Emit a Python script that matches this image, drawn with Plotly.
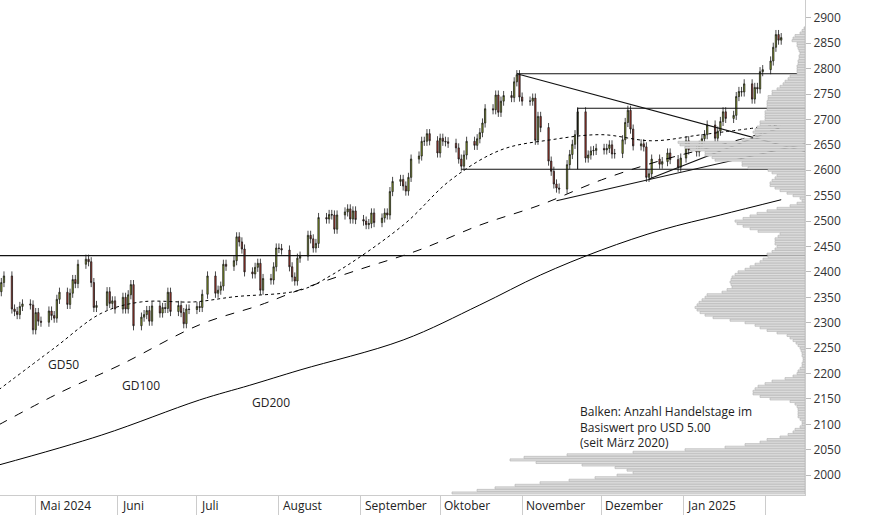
import pandas as pd
import plotly.graph_objects as go

closes = [
 2361,2379,2392,2327,2322,2316,2332,2337,2335,2286,
 2320,2303,2301,2323,2314,2309,2346,2360,2336,2358,2385,2377,2415,2425,2420,2379,2330,2334,2361,2338,2343,2327,
 2350,2327,2355,2375,2294,2311,2316,2324,2303,2333,2319,2330,2328,2360,2322,2334,2320,2298,2327,2326,
 2332,2330,2356,2392,2358,2364,2372,2415,2411,2422,2469,2459,2445,2400,2396,2409,2417,2364,2387,2384,2410,2447,
 2446,2443,2410,2390,2382,2427,2431,2472,2465,2447,2456,2507,2504,2513,2512,2484,2512,2518,2524,2504,2520,2503,
 2500,2493,2495,2516,2497,2506,2516,2512,2558,2578,2582,2569,2559,2586,2622,2628,2657,2657,2672,2658,2634,
 2663,2657,2656,2653,2644,2622,2608,2630,2657,2649,2662,2674,2693,2721,2719,2748,2714,2736,2747,2743,2774,2788,2744,
 2736,2736,2742,2659,2706,2684,2618,2598,2573,2565,2563,2611,2631,2651,2670,2715,2624,2630,2638,2639,2643,
 2640,2643,2650,2632,2633,2660,2694,2718,2681,2648,2652,2646,2586,2593,2622,2612,2617,2634,2621,2606,2624,
 2658,2640,2636,2649,2662,2670,2689,2663,2677,2696,2715,2702,2708,2745,2755,2754,2770,2740,2763,2760,2794,2798,
 2815,2842,2867,2856,2861]
first_open = 2380
wick = 9
holidays = ["2024-05-27", "2024-07-04", "2024-12-25", "2025-01-01"]
dates = [d for d in pd.bdate_range("2024-04-17", "2025-02-07") if d.strftime("%Y-%m-%d") not in holidays]
n = min(len(dates), len(closes))
dates, closes = dates[:n], closes[:n]
opens = [first_open] + closes[:-1]
highs = [max(o, c) + wick for o, c in zip(opens, closes)]
lows = [min(o, c) - wick for o, c in zip(opens, closes)]

gd50_dates = ["2024-04-17","2024-05-08","2024-05-26","2024-06-10","2024-06-30","2024-07-15","2024-08-09","2024-08-21","2024-09-17","2024-10-05","2024-10-24","2024-11-12","2024-12-01","2024-12-20","2025-01-08","2025-02-07"]
gd50_vals = [2168,2250,2319,2341,2341,2351,2364,2394,2492,2581,2640,2660,2670,2658,2670,2690]
gd100_dates = ["2024-04-17","2024-05-10","2024-06-02","2024-07-02","2024-07-25","2024-08-09","2024-08-31","2024-09-23","2024-10-16","2024-11-08","2024-12-01","2024-12-24","2025-01-15","2025-02-07"]
gd100_vals = [2099,2162,2217,2296,2335,2365,2404,2443,2492,2532,2581,2620,2650,2683]
gd200_dates = ["2024-04-17","2024-05-26","2024-07-02","2024-07-21","2024-08-09","2024-09-17","2024-10-16","2024-11-08","2024-12-01","2024-12-24","2025-01-15","2025-02-07"]
gd200_vals = [2020,2079,2148,2177,2207,2266,2335,2394,2443,2483,2512,2542]

lines = [
 ("2024-04-17", 2432, "2025-02-16", 2432),
 ("2024-10-30", 2790, "2025-02-16", 2790),
 ("2024-11-22", 2722, "2025-02-16", 2722),
 ("2024-10-09", 2602, "2025-02-16", 2602),
 ("2024-11-22", 2602, "2024-11-22", 2722),
 ("2024-10-30", 2790, "2025-02-16", 2637),
 ("2024-11-14", 2540, "2025-02-16", 2652),
 ("2024-12-19", 2583, "2025-02-07", 2685),
]

prof_start = 1965
prof_step = 5
prof_len = [353,328,310,290,265,236,210,188,172,178,190,223,269,295,281,238,172,
 120,80,60,45,38,25,17,12,10,5,3,3,5,7,7,7,7,8,10,15,35,45,52,52,50,47,40,33,20,12,8,7,5,3,3,2,2,3,3,4,5,7,9,12,15,18,28,38,45,50,
 60,75,92,100,105,108,110,108,106,103,100,98,83,78,73,74,75,74,73,70,67,60,55,50,45,42,37,38,33,30,28,30,30,30,27,25,
 47,55,62,68,70,62,55,48,38,28,15,8,3,5,12,18,25,30,35,35,33,30,28,33,37,57,63,63,90,93,100,100,115,120,125,127,
 63,52,50,52,50,48,45,45,40,40,40,40,38,38,38,38,37,37,33,33,28,25,22,20,17,15,8,8,8,8,7,7,6,6,5,6,7,8,8,13,12,10,5,3,1]
prof_levels = [prof_start + prof_step * i for i in range(len(prof_len))]

months = ["2024-05-01","2024-06-01","2024-07-01","2024-08-01","2024-09-01","2024-10-01","2024-11-01","2024-12-01","2025-01-01","2025-02-01"]
month_labels = ["Mai 2024","Juni","Juli","August","September","Oktober","November","Dezember","Jan 2025",""]
yticks = list(range(2000, 2901, 50))

fig = go.Figure()
fig.add_trace(go.Bar(y=prof_levels, x=prof_len, orientation="h", xaxis="x2", width=4.2,
    marker=dict(color="#dedede", line=dict(color="#b0b0b0", width=0.6)), hoverinfo="skip"))
for ds, vs, dash in [(gd50_dates, gd50_vals, "dot"), (gd100_dates, gd100_vals, "dash"), (gd200_dates, gd200_vals, "solid")]:
    fig.add_trace(go.Scatter(x=ds, y=vs, mode="lines", line=dict(color="black", width=1, dash=dash, shape="spline")))
for x0, y0, x1, y1 in lines:
    fig.add_trace(go.Scatter(x=[x0, x1], y=[y0, y1], mode="lines", line=dict(color="#111", width=1.1)))
fig.add_trace(go.Candlestick(x=dates, open=opens, high=highs, low=lows, close=closes,
    increasing=dict(fillcolor="#9cb526", line=dict(color="#1a1a1a", width=0.8)),
    decreasing=dict(fillcolor="#c0392b", line=dict(color="#1a1a1a", width=0.8)), whiskerwidth=0))

for lab, d, p in [("GD50", "2024-05-05", 2217), ("GD100", "2024-06-02", 2176), ("GD200", "2024-07-21", 2144)]:
    fig.add_annotation(x=d, y=p, text=lab, showarrow=False, font=dict(size=12, color="#222"), xanchor="left")
for m, lab in zip(months, month_labels):
    fig.add_annotation(x=m, y=0, yref="paper", text=lab, showarrow=False, xanchor="left", yanchor="top",
                       xshift=2, yshift=0, font=dict(size=12, color="#222"))
fig.add_annotation(x="2024-11-22", y=2146, text="Balken: Anzahl Handelstage im<br>Basiswert pro USD 5.00<br>(seit März 2020)",
                   showarrow=False, xanchor="left", yanchor="top", align="left", font=dict(size=12, color="#222"))

fig.update_layout(width=874, height=515, margin=dict(l=0, r=69, t=0, b=20), showlegend=False,
    plot_bgcolor="white", paper_bgcolor="white", font=dict(family="Open Sans", size=12, color="#222"),
    xaxis=dict(type="date", range=["2024-04-17 12:00", "2025-02-16"], rangeslider=dict(visible=False),
               tickvals=months, ticktext=[""] * len(months), ticks="outside", ticklen=20, tickcolor="#cccccc",
               showgrid=False, showline=True, linecolor="#cccccc", zeroline=False),
    xaxis2=dict(overlaying="x", range=[805, 0], visible=False),
    yaxis=dict(side="right", range=[1961, 2935], tickvals=yticks, ticks="outside", ticklen=5, tickcolor="#bbbbbb",
               showgrid=False, showline=True, linecolor="#cccccc", zeroline=False, tickfont=dict(size=12, color="#333")),
)
fig.write_html("out.html", config={"displayModeBar": False})
with open("out.html", encoding="utf-8") as f:
    html = f.read()
html = html.replace("<body>", '<body style="margin:0;overflow:hidden">', 1)
with open("out.html", "w", encoding="utf-8") as f:
    f.write(html)
